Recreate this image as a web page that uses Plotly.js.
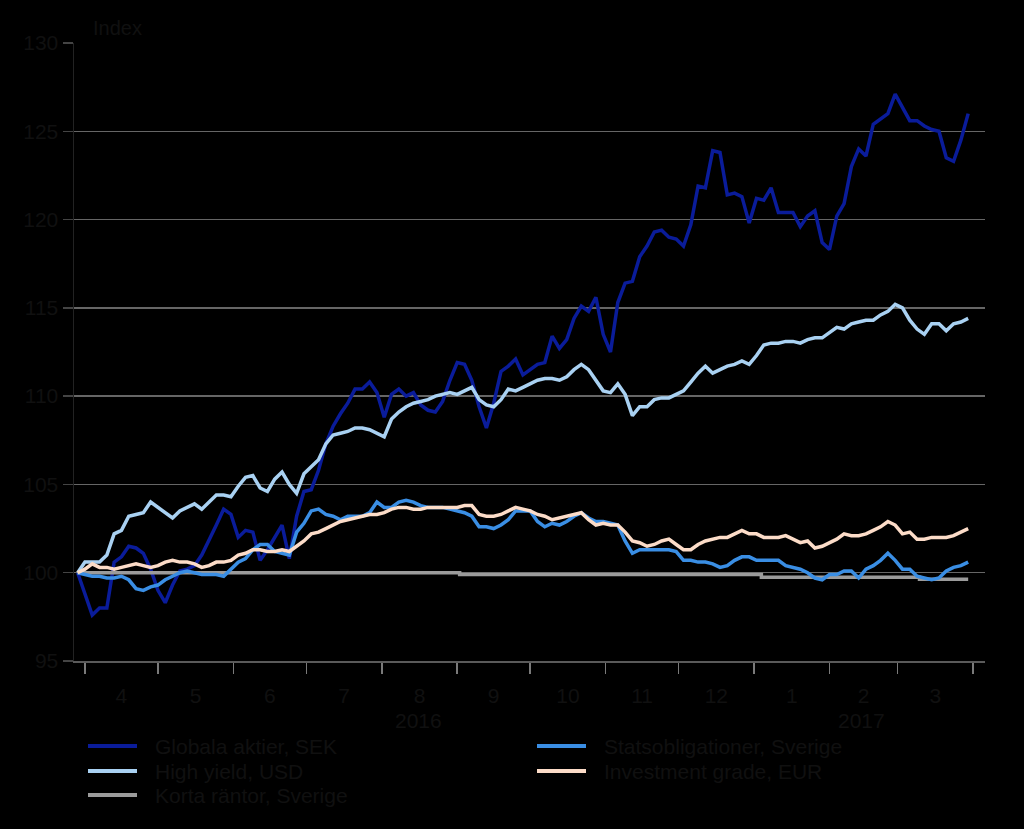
<!DOCTYPE html>
<html>
<head>
<meta charset="utf-8">
<script src="https://cdn.plot.ly/plotly-3.0.1.min.js"></script>
<style>
  html, body { margin: 0; padding: 0; background: #000; }
  #chart { width: 1024px; height: 829px; }
</style>
</head>
<body>
<div id="chart"></div>
<script>
// ---------- DATA ----------
const dates = [
  "2016-03-29","2016-04-01","2016-04-04","2016-04-07","2016-04-10","2016-04-13","2016-04-16","2016-04-19","2016-04-22","2016-04-25","2016-04-28",
  "2016-05-01","2016-05-04","2016-05-07","2016-05-10","2016-05-13","2016-05-16","2016-05-19","2016-05-22","2016-05-25","2016-05-28","2016-05-31",
  "2016-06-03","2016-06-06","2016-06-09","2016-06-12","2016-06-15","2016-06-18","2016-06-21","2016-06-24","2016-06-27","2016-06-30",
  "2016-07-03","2016-07-06","2016-07-09","2016-07-12","2016-07-15","2016-07-18","2016-07-21","2016-07-24","2016-07-27","2016-07-30",
  "2016-08-02","2016-08-05","2016-08-08","2016-08-11","2016-08-14","2016-08-17","2016-08-20","2016-08-23","2016-08-26","2016-08-29",
  "2016-09-01","2016-09-04","2016-09-07","2016-09-10","2016-09-13","2016-09-16","2016-09-19","2016-09-22","2016-09-25","2016-09-28",
  "2016-10-01","2016-10-04","2016-10-07","2016-10-10","2016-10-13","2016-10-16","2016-10-19","2016-10-22","2016-10-25","2016-10-28","2016-10-31",
  "2016-11-03","2016-11-06","2016-11-09","2016-11-12","2016-11-15","2016-11-18","2016-11-21","2016-11-24","2016-11-27","2016-11-30",
  "2016-12-03","2016-12-06","2016-12-09","2016-12-12","2016-12-15","2016-12-18","2016-12-21","2016-12-24","2016-12-27","2016-12-30",
  "2017-01-02","2017-01-05","2017-01-08","2017-01-11","2017-01-14","2017-01-17","2017-01-20","2017-01-23","2017-01-26","2017-01-29",
  "2017-02-01","2017-02-04","2017-02-07","2017-02-10","2017-02-13","2017-02-16","2017-02-19","2017-02-22","2017-02-25","2017-02-28",
  "2017-03-03","2017-03-06","2017-03-09","2017-03-12","2017-03-15","2017-03-18","2017-03-21","2017-03-24","2017-03-27","2017-03-30"
];

const globalaAktier = [
  100.0, 98.8, 97.6, 98.0, 98.0, 100.6, 100.9, 101.5, 101.4, 101.1, 100.2,
  99.0, 98.3, 99.3, 100.1, 100.2, 100.4, 101.0, 101.8, 102.7, 103.6, 103.3,
  102.0, 102.4, 102.3, 100.7, 101.3, 102.0, 102.7, 100.8, 103.2, 104.6,
  104.7, 105.8, 107.3, 108.3, 109.0, 109.6, 110.4, 110.4, 110.8, 110.2,
  108.8, 110.1, 110.4, 110.0, 110.2, 109.5, 109.2, 109.1, 109.7, 110.9,
  111.9, 111.8, 110.9, 109.4, 108.2, 109.6, 111.4, 111.7, 112.1, 111.2,
  111.5, 111.8, 111.9, 113.4, 112.7, 113.2, 114.4, 115.1, 114.8, 115.6, 113.5,
  112.5, 115.3, 116.4, 116.5, 117.9, 118.5, 119.3, 119.4, 119.0, 118.9,
  118.5, 119.7, 121.9, 121.8, 123.9, 123.8, 121.4, 121.5, 121.3, 119.8,
  121.2, 121.1, 121.8, 120.4, 120.4, 120.4, 119.6, 120.2, 120.5, 118.7,
  118.3, 120.2, 120.9, 123.0, 124.0, 123.6, 125.4, 125.7, 126.0, 127.1,
  126.3, 125.6, 125.6, 125.3, 125.1, 125.0, 123.5, 123.3, 124.5, 126.0
];

const highYield = [
  100.0, 100.6, 100.6, 100.6, 101.0, 102.2, 102.4, 103.2, 103.3, 103.4, 104.0,
  103.7, 103.4, 103.1, 103.5, 103.7, 103.9, 103.6, 104.0, 104.4, 104.4, 104.3,
  104.9, 105.4, 105.5, 104.8, 104.6, 105.3, 105.7, 105.0, 104.5, 105.6,
  106.0, 106.4, 107.3, 107.8, 107.9, 108.0, 108.2, 108.2, 108.1, 107.9,
  107.7, 108.7, 109.1, 109.4, 109.6, 109.7, 109.8, 110.0, 110.1, 110.2,
  110.1, 110.3, 110.5, 109.8, 109.5, 109.4, 109.8, 110.4, 110.3, 110.5,
  110.7, 110.9, 111.0, 111.0, 110.9, 111.1, 111.5, 111.8, 111.5, 110.9, 110.3,
  110.2, 110.7, 110.1, 108.9, 109.4, 109.4, 109.8, 109.9, 109.9, 110.1,
  110.3, 110.8, 111.3, 111.7, 111.3, 111.5, 111.7, 111.8, 112.0, 111.8,
  112.3, 112.9, 113.0, 113.0, 113.1, 113.1, 113.0, 113.2, 113.3, 113.3,
  113.6, 113.9, 113.8, 114.1, 114.2, 114.3, 114.3, 114.6, 114.8, 115.2,
  115.0, 114.3, 113.8, 113.5, 114.1, 114.1, 113.7, 114.1, 114.2, 114.4
];

const statsobligationer = [
  100.0, 99.9, 99.8, 99.8, 99.7, 99.7, 99.8, 99.6, 99.1, 99.0, 99.2,
  99.3, 99.6, 99.8, 100.0, 100.1, 100.0, 99.9, 99.9, 99.9, 99.8, 100.2,
  100.6, 100.8, 101.3, 101.6, 101.6, 101.2, 101.1, 101.0, 102.3, 102.8,
  103.5, 103.6, 103.3, 103.2, 103.0, 103.2, 103.2, 103.2, 103.4, 104.0,
  103.7, 103.7, 104.0, 104.1, 104.0, 103.8, 103.7, 103.7, 103.7, 103.6,
  103.5, 103.4, 103.2, 102.6, 102.6, 102.5, 102.7, 103.0, 103.5, 103.5,
  103.5, 102.9, 102.6, 102.8, 102.7, 102.9, 103.2, 103.4, 103.1, 102.9, 102.9,
  102.8, 102.7, 101.8, 101.1, 101.3, 101.3, 101.3, 101.3, 101.3, 101.2,
  100.7, 100.7, 100.6, 100.6, 100.5, 100.3, 100.4, 100.7, 100.9, 100.9,
  100.7, 100.7, 100.7, 100.7, 100.4, 100.3, 100.2, 100.0, 99.7, 99.6,
  99.9, 99.9, 100.1, 100.1, 99.7, 100.2, 100.4, 100.7, 101.1, 100.7,
  100.2, 100.2, 99.8, 99.7, 99.6, 99.7, 100.1, 100.3, 100.4, 100.6
];

const investmentGrade = [
  100.0, 100.2, 100.5, 100.3, 100.3, 100.2, 100.3, 100.4, 100.5, 100.4, 100.3,
  100.4, 100.6, 100.7, 100.6, 100.6, 100.5, 100.3, 100.4, 100.6, 100.6, 100.7,
  101.0, 101.1, 101.3, 101.3, 101.2, 101.2, 101.3, 101.2, 101.5, 101.8,
  102.2, 102.3, 102.5, 102.7, 102.9, 103.0, 103.1, 103.2, 103.3, 103.3,
  103.4, 103.6, 103.7, 103.7, 103.6, 103.6, 103.7, 103.7, 103.7, 103.7,
  103.7, 103.8, 103.8, 103.3, 103.2, 103.2, 103.3, 103.5, 103.7, 103.6,
  103.5, 103.3, 103.2, 103.0, 103.1, 103.2, 103.3, 103.4, 103.0, 102.7, 102.8,
  102.7, 102.7, 102.3, 101.8, 101.7, 101.5, 101.6, 101.8, 101.9, 101.6,
  101.3, 101.3, 101.6, 101.8, 101.9, 102.0, 102.0, 102.2, 102.4, 102.2,
  102.2, 102.0, 102.0, 102.0, 102.1, 101.9, 101.7, 101.8, 101.4, 101.5,
  101.7, 101.9, 102.2, 102.1, 102.1, 102.2, 102.4, 102.6, 102.9, 102.7,
  102.2, 102.3, 101.9, 101.9, 102.0, 102.0, 102.0, 102.1, 102.3, 102.5
];

const kortaDates = ["2016-03-29", "2016-09-02", "2017-01-04", "2017-03-10", "2017-03-30"];
const kortaRantor = [100.0, 99.9, 99.75, 99.63, 99.63];

const seriesNames = [
  "Globala aktier, SEK",
  "High yield, USD",
  "Korta räntor, Sverige",
  "Statsobligationer, Sverige",
  "Investment grade, EUR"
];
const seriesColors = ["#0a1c9a", "#a9d1f2", "#9b9b9b", "#3a8ee4", "#fcdcc8"];
const yearLabels = ["2016", "2017"];
const yearLabelDates = ["2016-08-16", "2017-02-14"];
const yAxisTitle = "Index";

// ---------- GEOMETRY HELPERS (pixel -> paper) ----------
const W = 1024, H = 829;
const M = { l: 74, r: 39, t: 43, b: 168 };
const PW = W - M.l - M.r, PH = H - M.t - M.b;
const px = x => (x - M.l) / PW;
const py = y => (H - M.b - y) / PH;

const TXT = "#101010";
const FONT = "Liberation Sans, Arial, sans-serif";

const seriesX = [dates, dates, kortaDates, dates, dates];
const seriesY = [globalaAktier, highYield, kortaRantor, statsobligationer, investmentGrade];

const traces = seriesNames.map((name, i) => ({
  type: "scatter",
  mode: "lines",
  name: name,
  x: seriesX[i],
  y: seriesY[i],
  line: { color: seriesColors[i], width: 3.5, shape: i === 2 ? "hv" : "linear" },
  hoverinfo: "skip",
  showlegend: false
}));

// Manual legend (two columns)
const legendPos = [
  { lx: 88, ly: 746 }, { lx: 88, ly: 771 }, { lx: 88, ly: 795 },
  { lx: 537, ly: 746 }, { lx: 537, ly: 771 }
];
const shapes = [];
const annotations = [];
seriesNames.forEach((name, i) => {
  const p = legendPos[i];
  shapes.push({
    type: "line", xref: "paper", yref: "paper",
    x0: px(p.lx), x1: px(p.lx + 49), y0: py(p.ly), y1: py(p.ly),
    line: { color: seriesColors[i], width: 4 }
  });
  annotations.push({
    xref: "paper", yref: "paper", x: px(p.lx + 65), y: py(p.ly),
    xanchor: "left", yanchor: "middle", showarrow: false,
    text: name, font: { family: FONT, size: 21, color: TXT }
  });
});
yearLabels.forEach((t, i) => {
  annotations.push({
    xref: "x", yref: "paper", x: yearLabelDates[i], y: py(720),
    xanchor: "center", yanchor: "middle", showarrow: false,
    text: t, font: { family: FONT, size: 21, color: TXT }
  });
});
annotations.push({
  xref: "paper", yref: "paper", x: px(91), y: py(28),
  xanchor: "left", yanchor: "middle", showarrow: false,
  text: yAxisTitle, font: { family: FONT, size: 20, color: TXT }
});

const layout = {
  width: W, height: H,
  margin: M,
  paper_bgcolor: "#000",
  plot_bgcolor: "#000",
  font: { family: FONT, size: 21, color: TXT },
  showlegend: false,
  xaxis: {
    type: "date",
    range: ["2016-03-27 12:00", "2017-04-05 22:00"],
    tick0: "2016-04-01",
    dtick: "M1",
    tickformat: "%-m",
    ticklabelmode: "period",
    ticks: "outside",
    ticklen: 11,
    tickwidth: 1.5,
    tickcolor: "#7a7a7a",
    ticklabelstandoff: 4,
    showline: true,
    linecolor: "#5a5a5a",
    linewidth: 1.5,
    showgrid: false,
    zeroline: false,
    tickfont: { family: FONT, size: 21, color: TXT },
    fixedrange: true
  },
  yaxis: {
    range: [95, 130],
    tick0: 95,
    dtick: 5,
    ticks: "outside",
    ticklen: 10,
    tickwidth: 1.5,
    tickcolor: "#444444",
    showline: true,
    linecolor: "#222222",
    linewidth: 1.5,
    showgrid: true,
    gridcolor: "#666666",
    gridwidth: 1.5,
    zeroline: false,
    tickfont: { family: FONT, size: 21, color: TXT },
    fixedrange: true
  },
  shapes: shapes,
  annotations: annotations
};

Plotly.newPlot("chart", traces, layout, { displayModeBar: false, staticPlot: true });
</script>
</body>
</html>
